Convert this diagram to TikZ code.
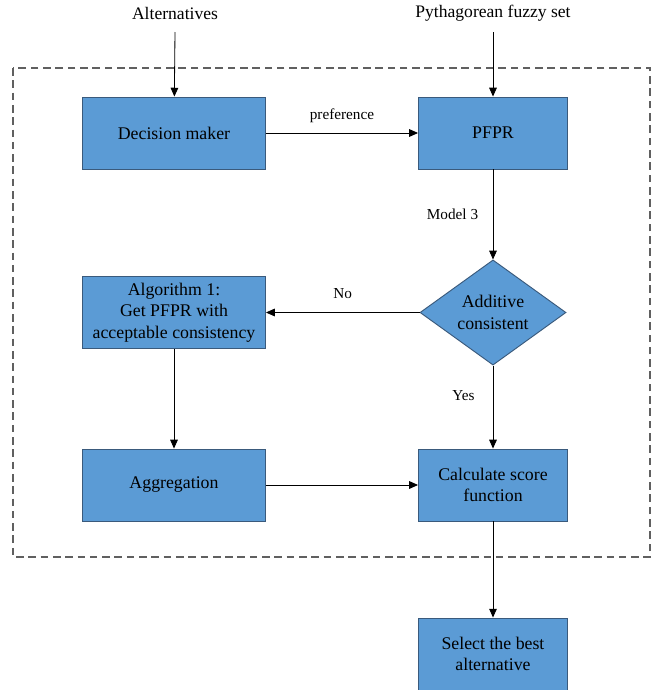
\documentclass[tikz,border=0pt]{standalone}
\usepackage{fontspec}
\setmainfont{Liberation Serif}
\usetikzlibrary{arrows.meta, positioning, shapes.geometric}
\definecolor{boxfill}{HTML}{5B9BD5}
\definecolor{boxline}{HTML}{3A5A7C}

\begin{document}
\begin{tikzpicture}[x=0.03cm, y=-0.03cm, line width=0.7pt,
    %Style
    wide box/.style={rectangle, draw=boxline, fill=boxfill, line width=0.8pt,
      minimum width=5.49cm, minimum height=2.16cm, align=center,
      font=\rmfamily\fontsize{15.2}{18.3}\selectfont},
    narrow box/.style={wide box, minimum width=4.47cm},
    decision/.style={diamond, draw=boxline, fill=boxfill, line width=0.8pt,
      minimum width=4.38cm, minimum height=3.03cm, inner sep=0pt, align=center,
      font=\rmfamily\fontsize{15.2}{18.3}\selectfont},
    input text/.style={font=\rmfamily\fontsize{15}{18}\selectfont, inner sep=0pt},
    flow label/.style={font=\rmfamily\fontsize{13}{15}\selectfont},
    flow/.style={-{Triangle[length=7.5pt,width=6.5pt]}}]
    \useasboundingbox (0,0) rectangle (659,690);

    %The frame
    \draw[gray!75!black, line width=0.9pt, dash pattern=on 6.5pt off 4pt]
      (13,68) rectangle (650,557);

    %Inputs
    \node[input text] (alt) at (175,13) {Alternatives};
    \node[input text] (pfs) at (493,13) {Pythagorean fuzzy set};
    \coordinate (alt end) at (175,32);
    \coordinate (pfs end) at (493,32);

    %The blocks
    \node[wide box] (dm) at (174,133) {Decision maker};
    \node[narrow box] (pfpr) at (493,133) {PFPR};
    \node[decision] (cons) at (493,312.5) {Additive\\consistent};
    \node[wide box] (alg) at (174,312.5) {Algorithm 1:\\Get PFPR with\\acceptable consistency};
    \node[wide box] (agg) at (174,485) {Aggregation};
    \node[narrow box] (score) at (493,485) {Calculate score\\function};
    \node[narrow box] (best) at (493,654) {Select the best\\alternative};

    %Connectors
    \draw[flow] (alt end) -- (dm);
    \draw[flow] (pfs end) -- (pfpr);
    \draw[flow] (dm) -- node[flow label, above=5pt]{preference} (pfpr);
    \draw[flow] (pfpr) -- node[flow label, left=9pt]{Model 3} (cons);
    \draw[flow] (cons) -- node[flow label, above=8pt]{No} (alg);
    \draw[flow] (cons) -- node[flow label, pos=0.36, left=12pt]{Yes} (score);
    \draw[flow] (alg) -- (agg);
    \draw[flow] (agg) -- (score);
    \draw[flow] (score) -- (best);
\end{tikzpicture}
\end{document}
